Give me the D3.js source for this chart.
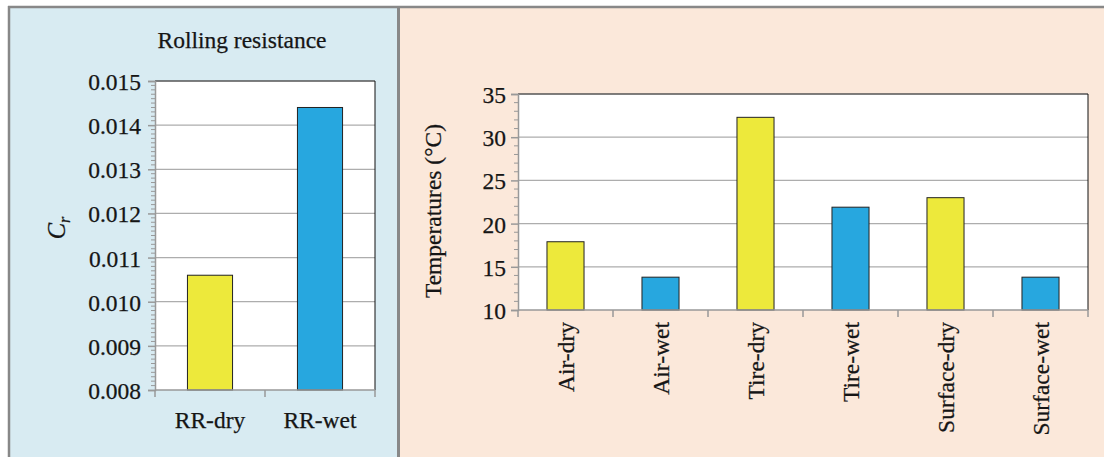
<!DOCTYPE html>
<html><head><meta charset="utf-8">
<script src="https://cdn.jsdelivr.net/npm/d3@7"></script>
<style>
body{margin:0;background:#fff;}
svg text{font-family:"Liberation Serif","Times New Roman",serif;fill:#151515;stroke:#151515;stroke-width:0.25px;}
</style></head>
<body><svg id="c" width="1104" height="457"></svg>
<script>
const rrCategories = ["RR-dry", "RR-wet"];
const rrValues = [0.0106, 0.0144];
const rrTicks = [0.008, 0.009, 0.010, 0.011, 0.012, 0.013, 0.014, 0.015];
const tempCategories = ["Air-dry", "Air-wet", "Tire-dry", "Tire-wet", "Surface-dry", "Surface-wet"];
const tempValues = [17.9, 13.8, 32.3, 21.9, 23.0, 13.8];
const tempTicks = [10, 15, 20, 25, 30, 35];
const barColors = ["#ede93b", "#27a7df"];

const svg = d3.select("#c");
const FS = 23.5;

// panels
svg.append("rect").attr("x",0).attr("y",0).attr("width",1104).attr("height",457).attr("fill","#ffffff");
svg.append("rect").attr("x",8).attr("y",6).attr("width",390).attr("height",451).attr("fill","#d8ebf2");
svg.append("rect").attr("x",400).attr("y",6).attr("width",704).attr("height",451).attr("fill","#fbe8da");
svg.append("line").attr("x1",8).attr("x2",1104).attr("y1",7).attr("y2",7).attr("stroke","#888").attr("stroke-width",2.5);
svg.append("line").attr("x1",9).attr("x2",9).attr("y1",6).attr("y2",457).attr("stroke","#888").attr("stroke-width",2.5);
svg.append("line").attr("x1",398.5).attr("x2",398.5).attr("y1",6).attr("y2",457).attr("stroke","#888").attr("stroke-width",3);

function drawChart(cfg){
  const g = svg.append("g");
  const x = d3.scaleBand().domain(cfg.cats).range([cfg.x0, cfg.x1]).paddingInner(0).paddingOuter(0);
  const y = d3.scaleLinear().domain(cfg.domain).range([cfg.y1, cfg.y0]);
  g.append("rect").attr("x",cfg.x0).attr("y",cfg.y0).attr("width",cfg.x1-cfg.x0).attr("height",cfg.y1-cfg.y0).attr("fill","#fff");
  // grid
  g.selectAll(".grid").data(cfg.ticks.slice(1,-1)).join("line")
    .attr("x1",cfg.x0).attr("x2",cfg.x1).attr("y1",d=>y(d)).attr("y2",d=>y(d))
    .attr("stroke","#adadad").attr("stroke-width",1.3);
  // bars
  const bw = x.bandwidth()*cfg.barFrac;
  g.selectAll(".bar").data(cfg.vals).join("rect")
    .attr("x",(d,i)=>x(cfg.cats[i])+(x.bandwidth()-bw)/2)
    .attr("y",d=>y(d)).attr("width",bw).attr("height",d=>y(cfg.domain[0])-y(d))
    .attr("fill",(d,i)=>barColors[i%2]).attr("stroke","#222").attr("stroke-width",1);
  // top & right border
  g.append("line").attr("x1",cfg.x0).attr("x2",cfg.x1).attr("y1",cfg.y0).attr("y2",cfg.y0).attr("stroke","#555").attr("stroke-width",1.5);
  g.append("line").attr("x1",cfg.x1).attr("x2",cfg.x1).attr("y1",cfg.y0).attr("y2",cfg.y1).attr("stroke","#111").attr("stroke-width",1);
  // minor ticks
  g.selectAll(".minor").data(cfg.minor).join("line")
    .attr("x1",cfg.x0-4).attr("x2",cfg.x0).attr("y1",d=>y(d)).attr("y2",d=>y(d))
    .attr("stroke","#999").attr("stroke-width",1);
  // y axis
  const ya = g.append("g").attr("transform",`translate(${cfg.x0},0)`)
    .call(d3.axisLeft(y).tickValues(cfg.ticks).tickFormat(cfg.fmt).tickSize(7).tickPadding(cfg.pad));
  ya.select(".domain").attr("stroke","#999").attr("stroke-width",1.5);
  ya.selectAll(".tick line").attr("stroke","#999").attr("stroke-width",1.5);
  ya.selectAll("text").attr("font-size",FS).attr("font-family","Liberation Serif").attr("fill","#151515").attr("dy","0.36em");
  // x axis line and ticks
  g.append("line").attr("x1",cfg.x0).attr("x2",cfg.x1).attr("y1",cfg.y1).attr("y2",cfg.y1).attr("stroke","#999").attr("stroke-width",1.5);
  const edges = cfg.cats.map(c=>x(c)).concat([cfg.x1]);
  g.selectAll(".xt").data(edges).join("line")
    .attr("x1",d=>d).attr("x2",d=>d).attr("y1",cfg.y1).attr("y2",cfg.y1+7)
    .attr("stroke","#999").attr("stroke-width",1.5);
  return {g,x,y};
}

// Left chart
const minorL = d3.range(80,151).map(v=>v/10000).filter(v=>Math.round(v*10000)%10!==0);
const L = drawChart({cats:rrCategories, vals:rrValues, domain:[0.008,0.015], ticks:rrTicks,
  x0:155, x1:375, y0:81, y1:390, barFrac:0.41, minor:minorL, fmt:d3.format(".3f"), pad:7});
L.g.selectAll(".xl").data(rrCategories).join("text")
  .attr("x",d=>L.x(d)+L.x.bandwidth()/2).attr("y",428).attr("text-anchor","middle")
  .attr("font-size",FS).text(d=>d);
svg.append("text").attr("x",242).attr("y",48).attr("text-anchor","middle").attr("font-size",FS).text("Rolling resistance");
const cr = svg.append("text").attr("transform","translate(65,228) rotate(-90)").attr("text-anchor","middle").attr("font-size",FS+1);
cr.append("tspan").attr("font-style","italic").text("C");
cr.append("tspan").attr("font-style","italic").attr("font-size",16).attr("dy",5).text("r");

// Right chart
const minorR = d3.range(10,36).filter(v=>v%5!==0);
const R = drawChart({cats:tempCategories, vals:tempValues, domain:[10,35], ticks:tempTicks,
  x0:518, x1:1088, y0:94, y1:310, barFrac:0.39, minor:minorR, fmt:d3.format("d"), pad:5});
R.g.selectAll(".xl").data(tempCategories).join("text")
  .attr("transform",d=>`translate(${R.x(d)+R.x.bandwidth()/2},322) rotate(-90)`)
  .attr("text-anchor","end").attr("dy","0.35em").attr("font-size",FS).text(d=>d);
svg.append("text").attr("transform","translate(441,211) rotate(-90)").attr("text-anchor","middle")
  .attr("font-size",FS).text("Temperatures (°C)");
</script></body></html>
